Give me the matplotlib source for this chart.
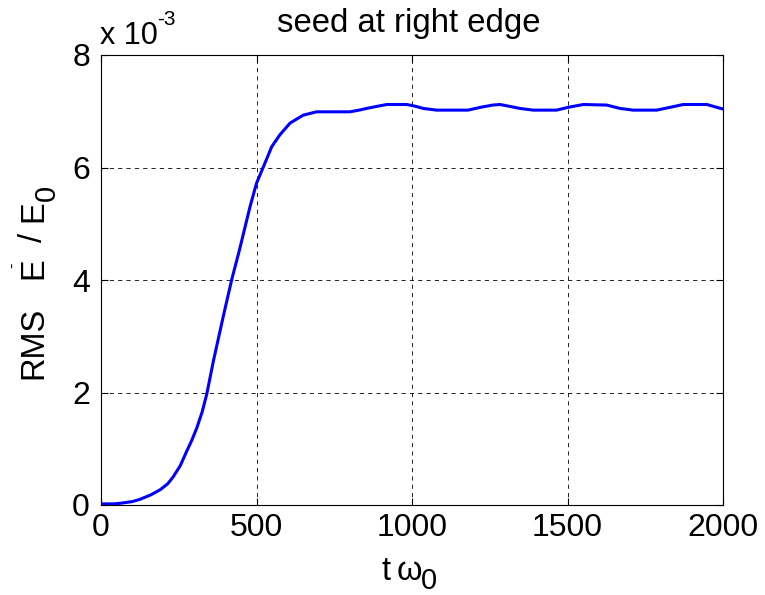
import numpy as np
import matplotlib
matplotlib.use("Agg")
import matplotlib.pyplot as plt

plt.rcParams['font.family'] = ['Liberation Sans', 'DejaVu Sans']

# time (t * omega_0) and RMS amplitude of E^- (in units of 1e-3 E_0)
t = [0, 40, 61, 100, 125, 160, 190, 215, 232, 255, 275, 292, 308, 325, 340,
     361, 393, 420, 445, 479, 500, 522, 549, 575, 608, 650, 693, 750, 800,
     830, 854, 890, 919, 983, 1010, 1036, 1080, 1180, 1220, 1260, 1283, 1320,
     1347, 1390, 1465, 1502, 1551, 1626, 1669, 1711, 1787, 1830, 1872, 1948,
     1980, 2000]
rms = [0.02, 0.02, 0.03, 0.06, 0.10, 0.18, 0.27, 0.38, 0.50, 0.70, 0.95,
       1.15, 1.37, 1.65, 1.97, 2.55, 3.35, 4.00, 4.53, 5.30, 5.72, 6.01, 6.37,
       6.58, 6.79, 6.93, 6.99, 6.99, 6.99, 7.02, 7.05, 7.09, 7.12, 7.12, 7.09,
       7.05, 7.02, 7.02, 7.07, 7.11, 7.12, 7.08, 7.05, 7.02, 7.02, 7.07, 7.12,
       7.11, 7.05, 7.02, 7.02, 7.07, 7.12, 7.12, 7.07, 7.04]

xticks = [0, 500, 1000, 1500, 2000]
yticks = [0, 2, 4, 6, 8]

W, H = 765, 595
fig = plt.figure(figsize=(W / 100, H / 100), dpi=100)
ax = fig.add_axes([101 / W, 1 - 505 / H, 622 / W, 450 / H])


def at(x, y):
    """Pixel position (from top-left) to figure fraction."""
    return x / W, 1 - y / H


ax.plot(t, rms, color='#0000ff', lw=2.2)
ax.set_xlim(0, 2000)
ax.set_ylim(0, 8)
ax.set_xticks(xticks)
ax.set_yticks(yticks)
ax.tick_params(direction='in', labelsize=23, length=5, top=True, right=True)
ax.tick_params(axis='x', pad=6)
ax.tick_params(axis='y', pad=8)
ax.grid(True, color='black', linestyle=(0, (5, 5)), linewidth=0.6)
for s in ax.spines.values():
    s.set_linewidth(0.8)

fs = 23.5

# title
fig.text(*at(409, 32), 'seed at right edge', fontsize=23.7,
         ha='center', va='baseline')

# x label: t omega_0
fig.text(*at(381, 580), 't', fontsize=fs, ha='left', va='baseline')
fig.text(*at(397, 580), 'ω', fontsize=fs, ha='left', va='baseline')
fig.text(*at(421, 589), '0', fontsize=21, ha='left', va='baseline')

# y label: RMS  E^- / E_0 (rotated)
rot = dict(rotation=90, rotation_mode='anchor', ha='left', va='baseline',
           fontsize=fs)
fig.text(*at(42, 379), 'RMS', **rot)
fig.text(*at(42, 279), 'E', **rot)
fig.text(*at(17, 268), '-', rotation=90, rotation_mode='anchor', ha='left',
         va='baseline', fontsize=12)
fig.text(*at(42, 242), '/', **rot)
fig.text(*at(42, 222), 'E', **rot)
fig.text(*at(55, 201), '0', rotation=90, rotation_mode='anchor', ha='left',
         va='baseline', fontsize=21)

# exponent of the y axis
fig.text(*at(100, 44), 'x 10', fontsize=22, ha='left', va='baseline')
fig.text(*at(157, 25), '-3', fontsize=15, ha='left', va='baseline')

fig.savefig('out.png', dpi=100)
